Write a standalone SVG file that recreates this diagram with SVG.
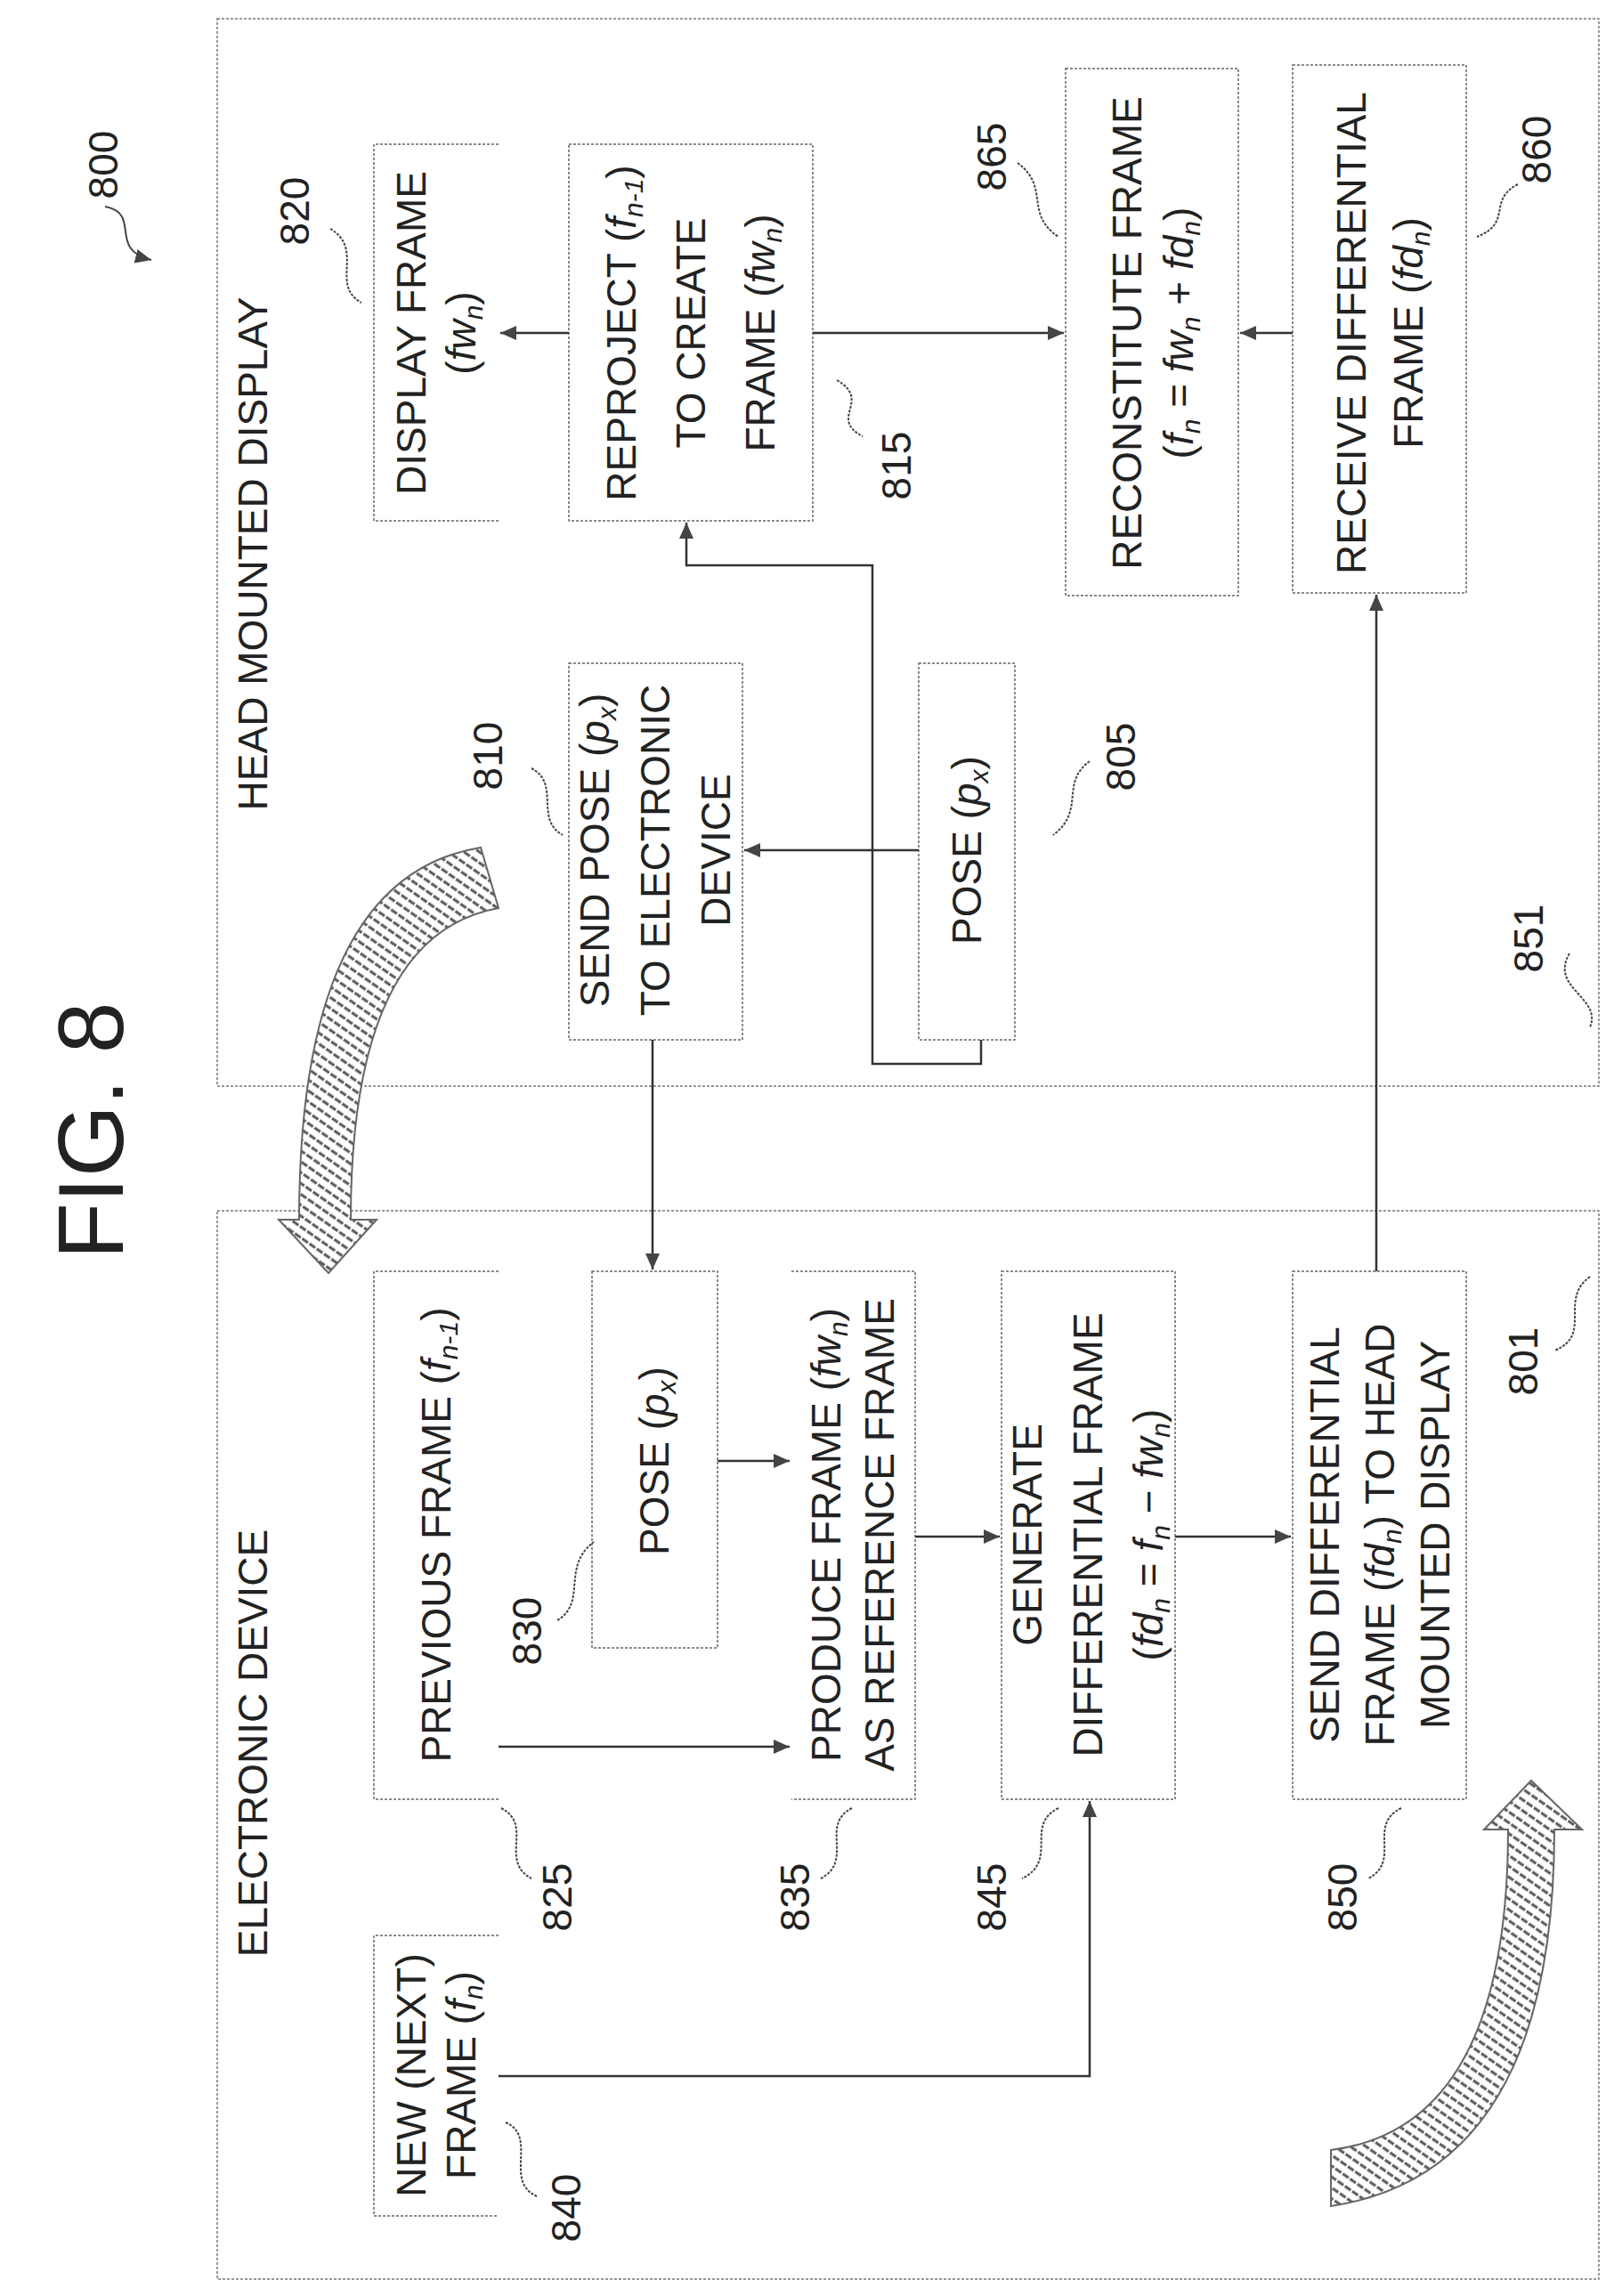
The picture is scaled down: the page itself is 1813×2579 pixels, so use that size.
<svg xmlns="http://www.w3.org/2000/svg" width="1813" height="2579" viewBox="0 0 1813 2579">
<defs>
<style>
.frame{fill:none;stroke:#777;stroke-width:1.5;stroke-dasharray:3 2}
.box{fill:none;stroke:#666;stroke-width:1.5;stroke-dasharray:3 2}
.c{fill:none;stroke:#333;stroke-width:2.5;marker-end:url(#ah)}
.sq{fill:none;stroke:#444;stroke-width:2;stroke-dasharray:3 1.5}
text{font-family:"Liberation Sans",Arial,sans-serif;font-size:46px;fill:#222;text-anchor:middle}
.i{font-style:italic}
.s{font-size:30px;font-style:italic}
.hatch{fill:url(#hp);stroke:#666;stroke-width:2}
</style>
<marker id="ah" markerWidth="20" markerHeight="16" refX="18" refY="8" orient="auto" markerUnits="userSpaceOnUse">
<path d="M0,0 L18,8 L0,16 Z" fill="#444"/>
</marker>
<pattern id="hp" width="10" height="10" patternUnits="userSpaceOnUse" patternTransform="rotate(35)">
<rect width="10" height="10" fill="#fff"/>
<line x1="0" y1="5" x2="10" y2="5" stroke="#555" stroke-width="3" stroke-dasharray="4 2"/>
</pattern>
</defs>

<text transform="translate(138,1270) rotate(-90)" style="font-size:104px">FIG. 8</text>

<g id="ref800">
<text transform="translate(132,185) rotate(-90)">800</text>
<path class="sq" d="M118,232 C160,240 120,280 170,292" style="stroke-dasharray:none" marker-end="url(#ah)"/>
</g>

<g id="hmd">
<rect class="frame" x="244" y="21" width="1552" height="1199"/>
<text transform="translate(300,622) rotate(-90)">HEAD MOUNTED DISPLAY</text>
<text transform="translate(1733,1054) rotate(-90)">851</text>
<path class="sq" d="M1763,1071 C1740,1110 1800,1120 1786,1154"/>
</g>

<g id="ed">
<rect class="frame" x="244" y="1360" width="1552" height="1200"/>
<text transform="translate(300,1958) rotate(-90)">ELECTRONIC DEVICE</text>
<text transform="translate(1727,1529) rotate(-90)">801</text>
<path class="sq" d="M1786,1434 C1750,1460 1790,1500 1746,1517"/>
</g>

<g id="n820">
<path class="box" d="M560,162 H420 V585 H560"/>
<text transform="translate(490,374) rotate(-90)"><tspan x="0" y="-12">DISPLAY FRAME</tspan><tspan x="0" y="44">(<tspan class="i">fw</tspan><tspan class="s" dy="8">n</tspan><tspan dy="-8">)</tspan></tspan></text>
<text transform="translate(347,237) rotate(-90)">820</text>
<path class="sq" d="M371,257 C410,280 370,320 406,340"/>
</g>

<g id="n815">
<rect class="box" x="639" y="162" width="274" height="423"/>
<text transform="translate(776,374) rotate(-90)"><tspan x="0" y="-62">REPROJECT (<tspan class="i">f</tspan><tspan class="s" dy="8">n-1</tspan><tspan dy="-8">)</tspan></tspan><tspan x="0" y="16">TO CREATE</tspan><tspan x="0" y="94">FRAME (<tspan class="i">fw</tspan><tspan class="s" dy="8">n</tspan><tspan dy="-8">)</tspan></tspan></text>
<text transform="translate(1023,523) rotate(-90)">815</text>
<path class="sq" d="M940,427 C980,450 930,470 969,490"/>
</g>

<g id="n865">
<rect class="box" x="1197" y="77" width="194" height="592"/>
<text transform="translate(1294,374) rotate(-90)"><tspan x="0" y="-12">RECONSTITUTE FRAME</tspan><tspan x="0" y="46">(<tspan class="i">f</tspan><tspan class="s" dy="8">n</tspan><tspan dy="-8"> = </tspan><tspan class="i">fw</tspan><tspan class="s" dy="8">n</tspan><tspan dy="-8"> + </tspan><tspan class="i">fd</tspan><tspan class="s" dy="8">n</tspan><tspan dy="-8">)</tspan></tspan></text>
<text transform="translate(1130,176) rotate(-90)">865</text>
<path class="sq" d="M1143,183 C1180,210 1150,240 1189,266"/>
</g>

<g id="n860">
<rect class="box" x="1452" y="73" width="195" height="593"/>
<text transform="translate(1550,374) rotate(-90)"><tspan x="0" y="-16">RECEIVE DIFFERENTIAL</tspan><tspan x="0" y="48">FRAME (<tspan class="i">fd</tspan><tspan class="s" dy="8">n</tspan><tspan dy="-8">)</tspan></tspan></text>
<text transform="translate(1742,168) rotate(-90)">860</text>
<path class="sq" d="M1705,207 C1670,225 1700,250 1659,266"/>
</g>

<g id="n810">
<rect class="box" x="639" y="745" width="195" height="423"/>
<text transform="translate(736,955) rotate(-90)"><tspan x="0" y="-52">SEND POSE (<tspan class="i">p</tspan><tspan class="s" dy="8">x</tspan><tspan dy="-8">)</tspan></tspan><tspan x="0" y="16">TO ELECTRONIC</tspan><tspan x="0" y="84">DEVICE</tspan></text>
<text transform="translate(564,849) rotate(-90)">810</text>
<path class="sq" d="M597,863 C630,880 600,920 632,938"/>
</g>

<g id="n805">
<rect class="box" x="1032" y="745" width="108" height="423"/>
<text transform="translate(1086,955) rotate(-90)"><tspan x="0" y="16">POSE (<tspan class="i">p</tspan><tspan class="s" dy="8">x</tspan><tspan dy="-8">)</tspan></tspan></text>
<text transform="translate(1275,850) rotate(-90)">805</text>
<path class="sq" d="M1224,855 C1190,880 1220,910 1183,938"/>
</g>

<g id="n825">
<path class="box" d="M560,1428 H420 V2021 H560"/>
<text transform="translate(490,1724) rotate(-90)"><tspan x="0" y="16">PREVIOUS FRAME (<tspan class="i">f</tspan><tspan class="s" dy="8">n-1</tspan><tspan dy="-8">)</tspan></tspan></text>
<text transform="translate(642,2131) rotate(-90)">825</text>
<path class="sq" d="M563,2031 C600,2050 560,2090 597,2110"/>
</g>

<g id="n830">
<rect class="box" x="665" y="1428" width="141" height="423"/>
<text transform="translate(735,1641) rotate(-90)"><tspan x="0" y="16">POSE (<tspan class="i">p</tspan><tspan class="s" dy="8">x</tspan><tspan dy="-8">)</tspan></tspan></text>
<text transform="translate(608,1832) rotate(-90)">830</text>
<path class="sq" d="M626,1820 C660,1800 630,1760 667,1732"/>
</g>

<g id="n835">
<path class="box" d="M889,1428 H1028 V2021 H889"/>
<text transform="translate(958,1724) rotate(-90)"><tspan x="0" y="-14">PRODUCE FRAME (<tspan class="i">fw</tspan><tspan class="s" dy="8">n</tspan><tspan dy="-8">)</tspan></tspan><tspan x="0" y="46">AS REFERENCE FRAME</tspan></text>
<text transform="translate(909,2131) rotate(-90)">835</text>
<path class="sq" d="M957,2031 C920,2050 960,2090 922,2110"/>
</g>

<g id="n845">
<rect class="box" x="1125" y="1428" width="195" height="593"/>
<text transform="translate(1222,1724) rotate(-90)"><tspan x="0" y="-52">GENERATE</tspan><tspan x="0" y="16">DIFFERENTIAL FRAME</tspan><tspan x="0" y="84">(<tspan class="i">fd</tspan><tspan class="s" dy="8">n</tspan><tspan dy="-8"> = </tspan><tspan class="i">f</tspan><tspan class="s" dy="8">n</tspan><tspan dy="-8"> − </tspan><tspan class="i">fw</tspan><tspan class="s" dy="8">n</tspan><tspan dy="-8">)</tspan></tspan></text>
<text transform="translate(1130,2131) rotate(-90)">845</text>
<path class="sq" d="M1189,2031 C1150,2050 1190,2090 1148,2110"/>
</g>

<g id="n850">
<rect class="box" x="1452" y="1428" width="195" height="593"/>
<text transform="translate(1550,1724) rotate(-90)"><tspan x="0" y="-46">SEND DIFFERENTIAL</tspan><tspan x="0" y="16">FRAME (<tspan class="i">fd</tspan><tspan class="s" dy="8">n</tspan><tspan dy="-8">) TO HEAD</tspan></tspan><tspan x="0" y="78">MOUNTED DISPLAY</tspan></text>
<text transform="translate(1524,2131) rotate(-90)">850</text>
<path class="sq" d="M1574,2031 C1535,2050 1575,2090 1537,2110"/>
</g>

<g id="n840">
<path class="box" d="M560,2174 H420 V2489 H560"/>
<text transform="translate(490,2331) rotate(-90)"><tspan x="0" y="-12">NEW (NEXT)</tspan><tspan x="0" y="44">FRAME (<tspan class="i">f</tspan><tspan class="s" dy="8">n</tspan><tspan dy="-8">)</tspan></tspan></text>
<text transform="translate(652,2480) rotate(-90)">840</text>
<path class="sq" d="M568,2384 C605,2400 565,2450 603,2467"/>
</g>

<g id="arrows">
<path class="hatch" d="M540,952 Q336,985 336,1370 L313,1370 L369,1430 L423,1370 L394,1370 Q394,1050 560,1020 Z"/>
<path class="hatch" d="M1495,2478 Q1746,2440 1746,2055 L1777,2055 L1720,2000 L1667,2055 L1694,2055 Q1694,2390 1495,2415 Z"/>
</g>

<g id="connectors">
<path class="c" d="M639,374 H562"/>
<path class="c" d="M913,374 H1195"/>
<path class="c" d="M1452,374 H1393"/>
<path class="c" d="M1032,955 H836"/>
<path class="c" d="M1102,1168 V1195 H980 V635 H771 V587"/>
<path class="c" d="M733,1168 V1426"/>
<path class="c" d="M1546,1428 V668"/>
<path class="c" d="M560,1962 H887"/>
<path class="c" d="M806,1641 H887"/>
<path class="c" d="M1028,1726 H1123"/>
<path class="c" d="M1320,1726 H1450"/>
<path class="c" d="M560,2332 H1224 V2023"/>
</g>
</svg>
